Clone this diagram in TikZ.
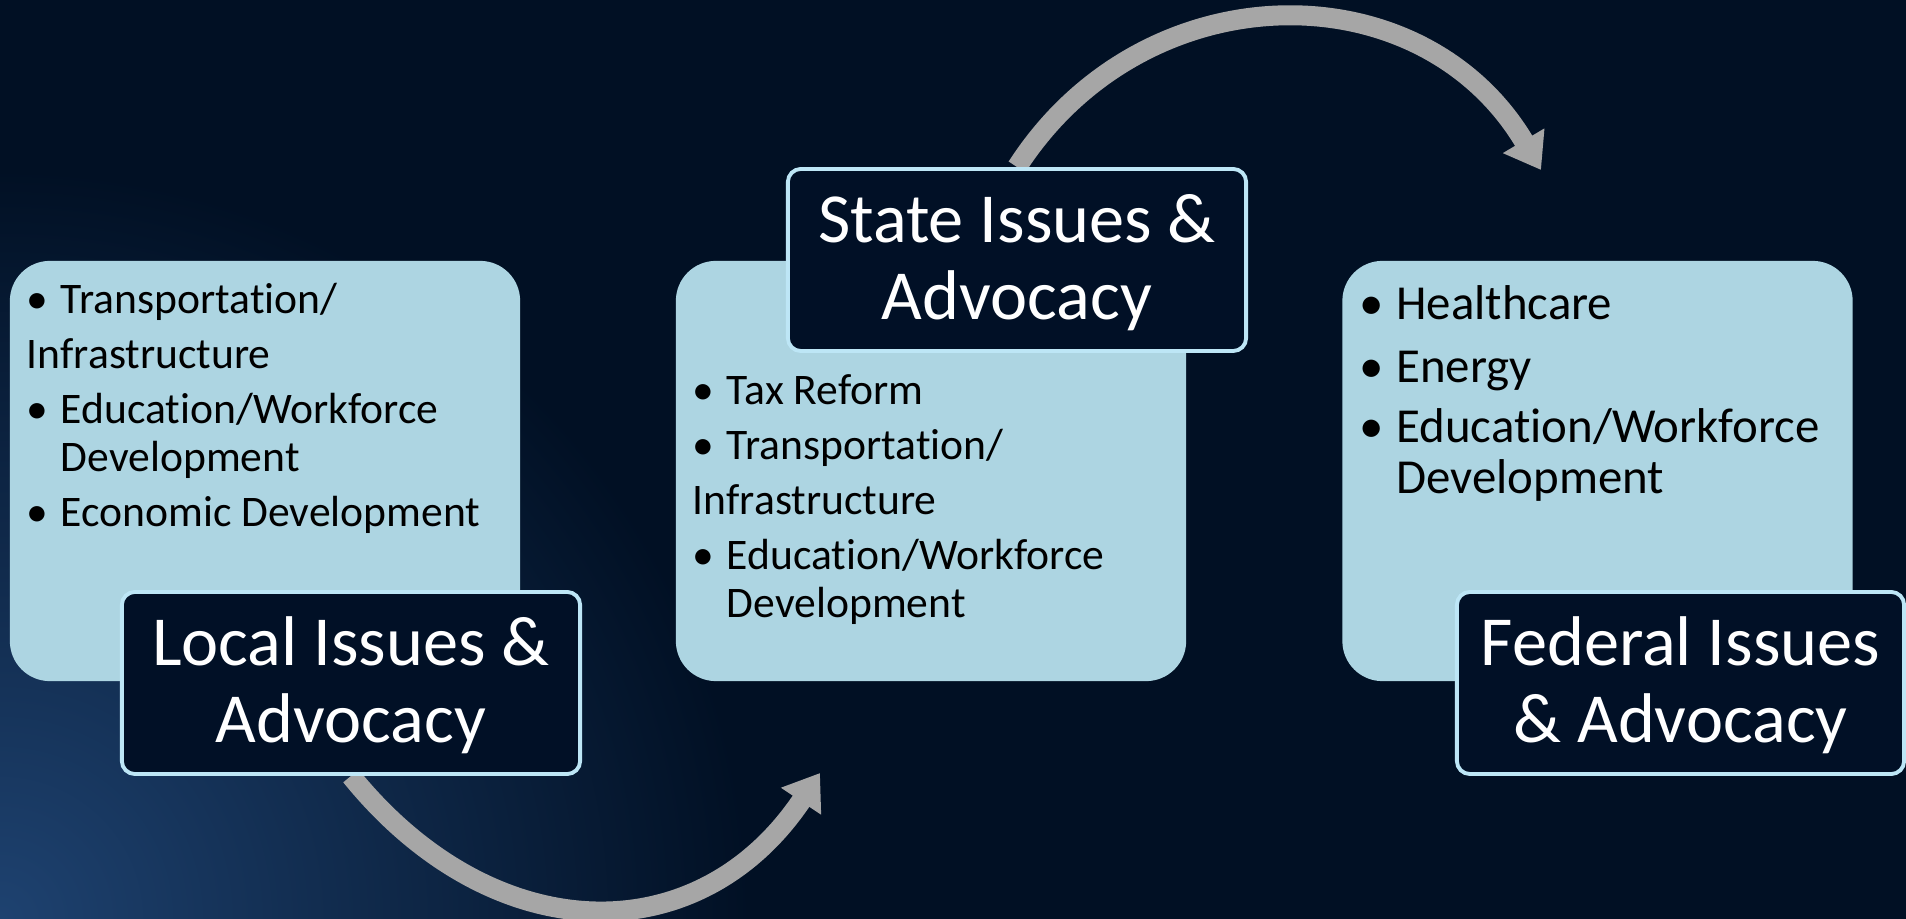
\documentclass[tikz,border=0pt]{standalone}
\usepackage{fontspec}
\setmainfont{Carlito}[Ligatures=NoCommon]
\usepackage{tikz}
\usepackage{xcolor}
\usetikzlibrary{arrows.meta}
\usetikzlibrary{shapes}

\definecolor{slidebg}{RGB}{1,16,36}
\definecolor{slideglow}{RGB}{30,66,112}
\definecolor{boxblue}{RGB}{173,213,226}
\definecolor{titlenavy}{RGB}{1,16,38}
\definecolor{titleedge}{RGB}{189,230,246}
\definecolor{arrowgray}{RGB}{166,166,166}

\tikzstyle{issuebox} = [rectangle, rounded corners=0.4cm, minimum width=5.1cm, minimum height=4.2cm,
inner sep=0pt, fill=boxblue]
\tikzstyle{titlebox} = [rectangle, rounded corners=0.13cm, minimum width=4.58cm, minimum height=1.82cm,
inner sep=0pt, fill=titlenavy, draw=titleedge, line width=1.1pt, text=white, align=center,
text depth=1.8pt, font=\fontsize{20pt}{22pt}\selectfont]
\tikzstyle{items} = [inner sep=0pt, align=left, text=black, font=\fontsize{12.4pt}{13.65pt}\selectfont]
\tikzstyle{flow} = [line width=0.2cm, draw=arrowgray, -{Triangle[length=0.34cm, width=0.46cm]}]

\newcommand{\blt}{\makebox[0.34cm][l]{\textbullet}}

\pgfdeclarelayer{backdrop}
\pgfdeclarelayer{behind}
\pgfsetlayers{backdrop,behind,main}

\begin{document}
\begin{tikzpicture}[x=0.01cm, y=-0.01cm]
        \useasboundingbox (0,0) rectangle (1906,919);

        % background
        \begin{pgfonlayer}{backdrop}
            \fill[slidebg] (0,0) rectangle (1906,919);
            \shade[inner color=slideglow, outer color=slidebg] (0,919) circle (0.75*1000);
        \end{pgfonlayer}

        % the three issue boxes
        \node[issuebox] (lbox) at (265,471) {};
        \node[issuebox] (mbox) at (931,471) {};
        \node[issuebox] (rbox) at (1597.5,471) {};

        % lists sit on the baseline of their last line
        \node[items, anchor=base west, xshift=0.17cm, yshift=-2.665cm] (litems) at (lbox.north west)
            {\blt Transportation/\\[2pt]
             Infrastructure\\[2pt]
             \blt Education/Workforce\\
             \hspace*{0.34cm}Development\\[2pt]
             \blt Economic Development};
        \node[items, anchor=base west, xshift=0.17cm, yshift=-3.57cm] (mitems) at (mbox.north west)
            {\blt Tax Reform\\[2pt]
             \blt Transportation/\\[2pt]
             Infrastructure\\[2pt]
             \blt Education/Workforce\\
             \hspace*{0.34cm}Development};
        \node[items, anchor=base west, xshift=0.17cm, yshift=-2.33cm,
              font=\fontsize{13.9pt}{14.5pt}\selectfont] (ritems) at (rbox.north west)
            {\makebox[0.37cm][l]{\textbullet}Healthcare\\[3.5pt]
             \makebox[0.37cm][l]{\textbullet}Energy\\[2.5pt]
             \makebox[0.37cm][l]{\textbullet}Education/Workforce\\
             \hspace*{0.37cm}Development};

        % titles
        \node[titlebox] (ltitle) at (351,683) {Local Issues \&\\Advocacy};
        \node[titlebox] (mtitle) at (1017,260) {State Issues \&\\Advocacy};
        \node[titlebox, minimum width=4.47cm] (rtitle) at (1680.5,683) {Federal Issues\\\& Advocacy};

        \coordinate (statein) at (820,773);
        \coordinate (fedin) at (1541,170);

        \begin{pgfonlayer}{behind}
            \draw[flow] (ltitle.south) .. controls (491,949) and (697,956) .. (statein);
            \draw[flow] (mtitle.north) .. controls (1144,-30) and (1421,-32) .. (fedin);
        \end{pgfonlayer}

    \end{tikzpicture}
\end{document}
